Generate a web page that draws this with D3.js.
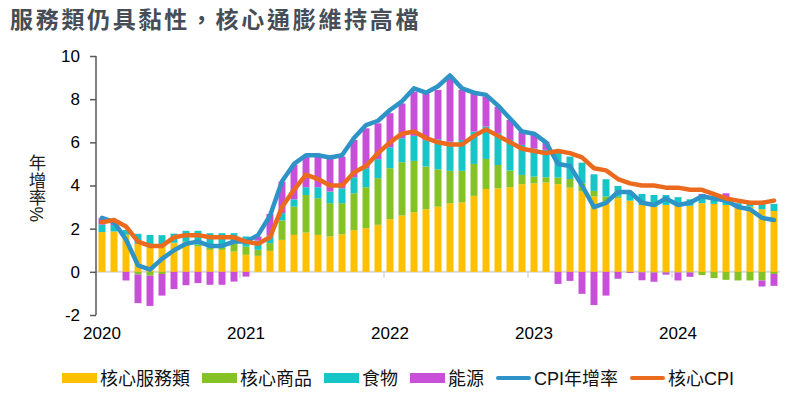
<!DOCTYPE html>
<html><head><meta charset="utf-8">
<script src="https://cdn.jsdelivr.net/npm/d3@7/dist/d3.min.js"></script>
<style>
html,body{margin:0;padding:0;background:#fff;}
svg{display:block;}
</style></head>
<body>
<svg id="c" width="807" height="400"></svg>
<script>
// ---- Data (Jan 2020 – Sep 2024, monthly) ----
const months = [];
for (let yr = 2020; yr <= 2024; yr++) for (let mo = 1; mo <= 12; mo++) {
  if (yr === 2024 && mo > 9) break;
  months.push(yr + "-" + String(mo).padStart(2, "0"));
}
const yearLabels = ["2020", "2021", "2022", "2023", "2024"];
const yTicks = [-2, 0, 2, 4, 6, 8, 10];

const coreServices = [1.84,1.87,1.72,1.30,1.13,1.20,1.33,1.35,1.17,1.02,1.02,0.94,
  0.79,0.74,0.97,1.48,1.71,1.82,1.71,1.64,1.74,1.93,2.02,2.18,
  2.44,2.61,2.76,2.90,3.02,3.18,3.21,3.52,3.84,3.87,3.92,4.06,
  4.10,4.14,4.06,3.90,3.72,3.49,3.26,3.41,3.29,3.10,3.02,3.10,
  3.18,3.06,3.18,3.15,3.10,2.95,3.02,2.90,2.82];
const coreGoods = [0.00,0.00,0.00,-0.12,-0.18,-0.10,0.02,0.05,0.10,0.10,0.12,0.36,
  0.38,0.28,0.36,0.90,1.31,1.74,1.70,1.54,1.44,1.71,1.90,2.16,
  2.36,2.47,2.38,1.98,1.73,1.50,1.47,1.48,1.39,1.08,0.77,0.43,
  0.31,0.24,0.31,0.40,0.38,0.26,0.23,0.07,0.01,-0.02,-0.03,-0.03,
  -0.03,-0.03,-0.15,-0.29,-0.37,-0.40,-0.40,-0.40,-0.10];
const food = [0.35,0.30,0.22,0.46,0.58,0.50,0.42,0.50,0.63,0.67,0.65,0.49,
  0.47,0.43,0.35,0.34,0.34,0.36,0.51,0.54,0.69,0.74,0.88,0.88,
  0.97,1.11,1.16,1.22,1.39,1.35,1.43,1.50,1.50,1.47,1.42,1.39,
  1.31,1.27,1.20,1.04,0.96,0.77,0.80,0.50,0.40,0.51,0.54,0.46,
  0.28,0.30,0.31,0.21,0.31,0.23,0.16,0.28,0.33];
const energy = [0.30,0.13,-0.40,-1.33,-1.40,-1.00,-0.80,-0.62,-0.52,-0.60,-0.60,-0.45,
  -0.22,0.19,1.00,1.46,1.59,1.42,1.42,1.54,1.47,1.73,1.85,1.66,
  1.58,1.61,2.05,2.17,2.29,2.94,2.32,1.77,1.39,1.23,0.93,0.62,
  0.62,0.38,-0.56,-0.42,-1.02,-1.54,-1.10,-0.32,-0.05,-0.37,-0.43,-0.10,
  -0.37,-0.20,0.12,0.08,0.23,0.02,0.00,-0.28,-0.55];
const cpi = [2.5,2.3,1.5,0.3,0.1,0.6,1.0,1.3,1.4,1.2,1.2,1.4,
  1.4,1.7,2.6,4.2,5.0,5.4,5.4,5.3,5.4,6.2,6.8,7.0,
  7.5,7.9,8.5,8.3,8.6,9.1,8.5,8.3,8.2,7.7,7.1,6.5,
  6.4,6.0,5.0,4.9,4.0,3.0,3.2,3.7,3.7,3.2,3.1,3.4,
  3.1,3.2,3.5,3.4,3.3,3.0,2.9,2.5,2.4];
const coreCpi = [2.3,2.4,2.1,1.4,1.2,1.2,1.6,1.7,1.7,1.6,1.6,1.6,
  1.4,1.3,1.6,3.0,3.8,4.5,4.3,4.0,4.0,4.6,4.9,5.5,
  6.0,6.4,6.5,6.2,6.0,5.9,5.9,6.3,6.6,6.3,6.0,5.7,
  5.6,5.5,5.6,5.5,5.3,4.8,4.7,4.3,4.1,4.0,4.0,3.9,
  3.9,3.8,3.8,3.6,3.4,3.3,3.2,3.2,3.3];

const seriesNames = ["核心服務類", "核心商品", "食物", "能源"];
const lineNames = ["CPI年增率", "核心CPI"];
const barColors = ["#FFC000", "#84C225", "#17C4C6", "#C84FD8"];
const lineColors = ["#2E93C6", "#EC6A1E"];

// ---- Build table ----
const keys = ["s", "g", "f", "e"];
const table = months.map((m, i) => ({ m, s: coreServices[i], g: coreGoods[i], f: food[i], e: energy[i] }));
const stacked = d3.stack().keys(keys).offset(d3.stackOffsetDiverging)(table);

const svg = d3.select("#c");
const latin = "'Liberation Sans', Arial, 'Noto Sans CJK TC', sans-serif";
const cjk = "'Liberation Sans', 'Noto Sans CJK TC', sans-serif";

const x = d3.scaleBand().domain(months).range([96, 780]).paddingInner(0.42).paddingOuter(0.21);
const y = d3.scaleLinear().domain([-2, 10]).range([315, 56]);
const step = x.step();

// Title
svg.append("text").attr("x", 10).attr("y", 28)
  .attr("font-family", "'Noto Sans CJK TC', sans-serif").attr("font-weight", "bold")
  .attr("font-size", 23).attr("letter-spacing", 2.7).attr("fill", "#454d56")
  .text("服務類仍具黏性，核心通膨維持高檔");

// Zero baseline (x axis)
svg.append("line").attr("x1", 96).attr("x2", 780).attr("y1", y(0)).attr("y2", y(0))
  .attr("stroke", "#d9d9d9").attr("stroke-width", 2);

// Year ticks at band edges of January
const janMonths = months.filter(m => m.endsWith("-01"));
svg.append("g").selectAll("line").data(janMonths.slice(1)).join("line")
  .attr("x1", d => x(d) - step * 0.21).attr("x2", d => x(d) - step * 0.21)
  .attr("y1", y(0)).attr("y2", y(0) + 6)
  .attr("stroke", "#d9d9d9").attr("stroke-width", 1.5);

// Bars
svg.append("g").selectAll("g").data(stacked).join("g")
  .attr("fill", (d, i) => barColors[i])
  .selectAll("rect").data(d => d).join("rect")
  .attr("x", d => x(d.data.m))
  .attr("width", x.bandwidth())
  .attr("y", d => y(Math.max(d[0], d[1])))
  .attr("height", d => Math.abs(y(d[0]) - y(d[1])));

// Lines
const cx = m => x(m) + x.bandwidth() / 2;
[cpi, coreCpi].forEach((arr, k) => {
  const line = d3.line().x((d, i) => cx(months[i])).y(d => y(d));
  svg.append("path").datum(arr).attr("d", line)
    .attr("fill", "none").attr("stroke", lineColors[k]).attr("stroke-width", 4.5)
    .attr("stroke-linejoin", "round").attr("stroke-linecap", "round");
});

// Y axis
const yAxis = svg.append("g").attr("transform", "translate(96,0)")
  .call(d3.axisLeft(y).tickValues(yTicks).tickSize(6).tickPadding(10).tickFormat(d => String(d)));
yAxis.select(".domain").attr("stroke", "#595959").attr("stroke-width", 1.5).attr("d", `M0,${y(10)}V${y(-2)}`);
yAxis.selectAll(".tick line").attr("stroke", "#595959").attr("stroke-width", 1.5);
yAxis.selectAll(".tick text").attr("font-family", latin).attr("font-size", 17).attr("fill", "#000");

// X axis labels
const xAxis = svg.append("g").attr("transform", `translate(0,${y(-2)})`)
  .call(d3.axisBottom(x).tickValues(janMonths).tickSize(0).tickPadding(12)
    .tickFormat((d, i) => yearLabels[i]));
xAxis.select(".domain").remove();
xAxis.selectAll(".tick text").attr("font-family", latin).attr("font-size", 17).attr("fill", "#000");

// Y axis title (vertical)
svg.append("text").attr("x", 36).attr("y", 154)
  .attr("font-family", cjk).attr("font-size", 17.5).attr("fill", "#222")
  .style("writing-mode", "vertical-rl")
  .text("年增率%");

// Legend
const lg = svg.append("g");
let lx = 62;
const ly = 378;
const items = seriesNames.map((n, i) => ({ n, type: "rect", c: barColors[i] }))
  .concat(lineNames.map((n, i) => ({ n, type: "line", c: lineColors[i] })));
items.forEach(it => {
  if (it.type === "rect") {
    lg.append("rect").attr("x", lx).attr("y", ly - 5).attr("width", 35).attr("height", 10).attr("fill", it.c);
  } else {
    lg.append("line").attr("x1", lx + 2).attr("x2", lx + 33).attr("y1", ly).attr("y2", ly)
      .attr("stroke", it.c).attr("stroke-width", 4).attr("stroke-linecap", "round");
  }
  const t = lg.append("text").attr("x", lx + 38).attr("y", ly + 6.5)
    .attr("font-family", cjk).attr("font-size", 18).attr("fill", "#111").text(it.n);
  lx += 38 + t.node().getComputedTextLength() + 12;
});
</script>
</body></html>
